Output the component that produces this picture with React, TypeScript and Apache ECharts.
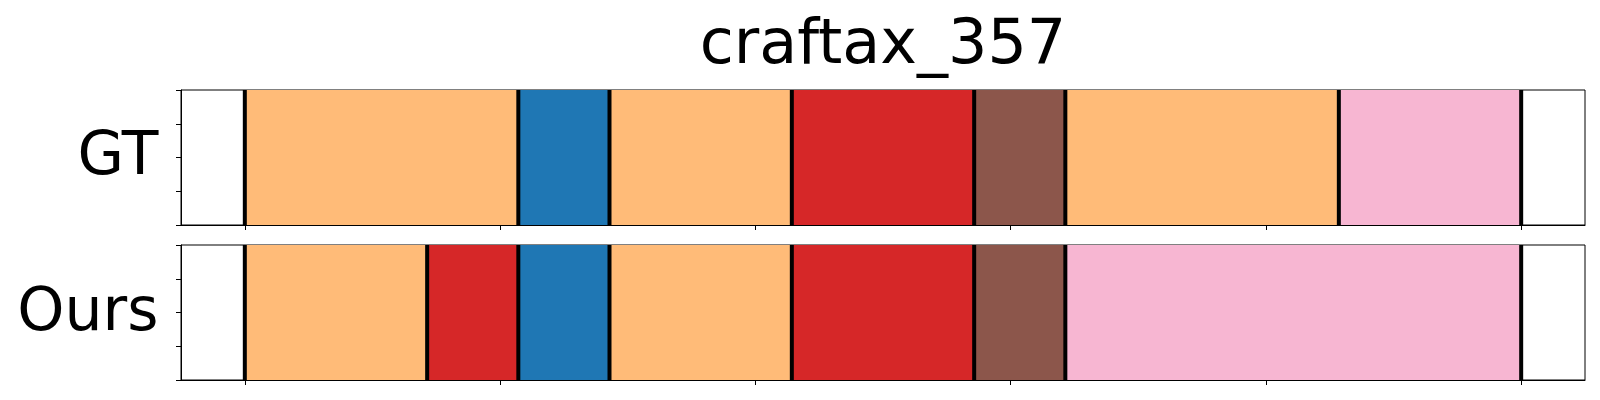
import React, { useEffect, useRef } from "react";
import * as echarts from "echarts";

const title = "craftax_357";
const rowLabels = ["GT", "Ours"];
const xMin = -3.5;
const xMax = 73.5;
const xTicks = [0, 14, 28, 42, 56, 70];
const yTicks = [0, 0.25, 0.5, 0.75, 1];

const gtBounds = [0, 15, 20, 30, 40, 45, 60, 70];
const gtClasses = ["orange", "blue", "orange", "red", "brown", "orange", "pink"];
const oursBounds = [0, 10, 15, 20, 30, 40, 45, 70];
const oursClasses = ["orange", "red", "blue", "orange", "red", "brown", "pink"];

const palette: Record<string, string> = {
  orange: "#ffbb78",
  blue: "#1f77b4",
  red: "#d62728",
  brown: "#8c564b",
  pink: "#f7b6d2",
};

const FONT = "DejaVu Sans";

function segData(bounds: number[], classes: string[]) {
  return classes.map((c, i) => ({
    value: [bounds[i], bounds[i + 1]],
    itemStyle: { color: palette[c] },
  }));
}

const rectRender = (params: any, api: any) => {
  const s = api.value(0);
  const e = api.value(1);
  const p0 = api.coord([s, 1]);
  const p1 = api.coord([e, 0]);
  return {
    type: "rect",
    shape: { x: p0[0], y: p0[1], width: p1[0] - p0[0], height: p1[1] - p0[1] },
    style: { fill: api.visual("color") },
  };
};

const lineRender = (params: any, api: any) => {
  const x = api.value(0);
  const a = api.coord([x, 0]);
  const b = api.coord([x, 1]);
  return {
    type: "line",
    shape: { x1: a[0], y1: a[1], x2: b[0], y2: b[1] },
    style: { stroke: "#000", lineWidth: 4 },
  };
};

export default function App() {
  const ref = useRef<HTMLDivElement>(null);
  useEffect(() => {
    if (!ref.current) return;
    const chart = echarts.init(ref.current, undefined, { renderer: "svg" });
    const grids = [
      { left: 181, right: 15, top: 90, height: 135 },
      { left: 181, right: 15, top: 245, height: 135 },
    ].map((g) => ({ ...g, show: true, borderColor: "#000", borderWidth: 1, backgroundColor: "transparent" }));
    const xAxis = [0, 1].map((i) => ({
      type: "value",
      gridIndex: i,
      min: xMin,
      max: xMax,
      axisLine: { show: true, onZero: false, lineStyle: { color: "#000", width: 1 } },
      axisTick: { show: true, length: 5, lineStyle: { color: "#000", width: 1 }, customValues: xTicks },
      axisLabel: { show: false, customValues: xTicks },
      splitLine: { show: false },
    }));
    const yAxis = [0, 1].map((i) => ({
      type: "value",
      gridIndex: i,
      min: 0,
      max: 1,
      interval: 0.25,
      axisLine: { show: true, onZero: false, lineStyle: { color: "#000", width: 1 } },
      axisTick: { show: true, length: 5, lineStyle: { color: "#000", width: 1 }, customValues: yTicks },
      axisLabel: { show: false },
      splitLine: { show: false },
    }));
    const series: any[] = [
      { type: "custom", xAxisIndex: 0, yAxisIndex: 0, renderItem: rectRender, data: segData(gtBounds, gtClasses), z: 2 },
      { type: "custom", xAxisIndex: 1, yAxisIndex: 1, renderItem: rectRender, data: segData(oursBounds, oursClasses), z: 2 },
      { type: "custom", xAxisIndex: 0, yAxisIndex: 0, renderItem: lineRender, data: gtBounds.map((b) => [b]), z: 3 },
      { type: "custom", xAxisIndex: 1, yAxisIndex: 1, renderItem: lineRender, data: oursBounds.map((b) => [b]), z: 3 },
    ];
    chart.setOption({
      animation: false,
      backgroundColor: "#fff",
      grid: grids,
      xAxis,
      yAxis,
      series,
      graphic: [
        {
          type: "text",
          x: 883,
          y: 41,
          style: { text: title, font: `62px '${FONT}'`, fill: "#000", textAlign: "center", textVerticalAlign: "middle" },
        },
        {
          type: "text",
          x: 158.5,
          y: 152.5,
          style: { text: rowLabels[0], font: `60px '${FONT}'`, fill: "#000", textAlign: "right", textVerticalAlign: "middle" },
        },
        {
          type: "text",
          x: 158.5,
          y: 308.5,
          style: { text: rowLabels[1], font: `60px '${FONT}'`, fill: "#000", textAlign: "right", textVerticalAlign: "middle" },
        },
      ],
    });
    return () => chart.dispose();
  }, []);
  return <div ref={ref} style={{ position: "absolute", left: 0, top: 0, width: 1600, height: 400 }} />;
}
